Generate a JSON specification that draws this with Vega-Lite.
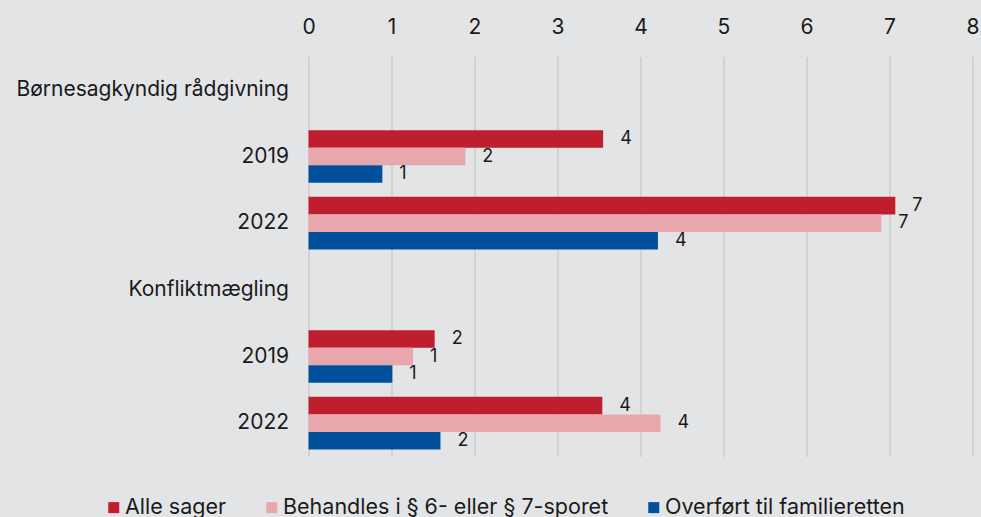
{
  "$schema": "https://vega.github.io/schema/vega-lite/v6.json",
  "autosize": "none",
  "width": 664,
  "height": 400,
  "padding": {"left": 308.5, "top": 56.5, "right": 8.5, "bottom": 60.5},
  "background": "#e3e4e6",
  "config": {"view": {"stroke": null}, "font": "Inter", "text": {"font": "Inter"}},
  "data": {
    "values": [
      {"row": "2|2019", "series": "Alle sager", "value": 3.55},
      {"row": "2|2019", "series": "Behandles i § 6- eller § 7-sporet", "value": 1.89},
      {"row": "2|2019", "series": "Overført til familieretten", "value": 0.89},
      {"row": "3|2022", "series": "Alle sager", "value": 7.07},
      {"row": "3|2022", "series": "Behandles i § 6- eller § 7-sporet", "value": 6.9},
      {"row": "3|2022", "series": "Overført til familieretten", "value": 4.21},
      {"row": "5|2019", "series": "Alle sager", "value": 1.52},
      {"row": "5|2019", "series": "Behandles i § 6- eller § 7-sporet", "value": 1.26},
      {"row": "5|2019", "series": "Overført til familieretten", "value": 1.01},
      {"row": "6|2022", "series": "Alle sager", "value": 3.54},
      {"row": "6|2022", "series": "Behandles i § 6- eller § 7-sporet", "value": 4.24},
      {"row": "6|2022", "series": "Overført til familieretten", "value": 1.59}
    ]
  },
  "encoding": {
    "y": {
      "field": "row",
      "type": "nominal",
      "scale": {
        "domain": ["1|Børnesagkyndig rådgivning", "2|2019", "3|2022", "4|Konfliktmægling", "5|2019", "6|2022"],
        "paddingInner": 0.21,
        "paddingOuter": 0.105
      },
      "axis": {
        "title": null,
        "domain": false,
        "ticks": false,
        "labelFontSize": 21,
        "labelPadding": 20,
        "labelLimit": 400,
        "labelColor": "#1a1a1a",
        "labelExpr": "split(datum.label, '|')[1]"
      }
    },
    "yOffset": {
      "field": "series",
      "type": "nominal",
      "scale": {"domain": ["Alle sager", "Behandles i § 6- eller § 7-sporet", "Overført til familieretten"]}
    },
    "x": {
      "field": "value",
      "type": "quantitative",
      "scale": {"domain": [0, 8], "nice": false},
      "axis": {
        "orient": "top",
        "title": null,
        "values": [0, 1, 2, 3, 4, 5, 6, 7, 8],
        "format": "d",
        "grid": true,
        "gridColor": "#c6c7c9",
        "gridWidth": 1.2,
        "domain": false,
        "ticks": false,
        "labelFontSize": 21,
        "labelPadding": 19,
        "labelColor": "#1a1a1a",
        "labelFlush": false
      }
    }
  },
  "layer": [
    {
      "mark": {"type": "bar"},
      "encoding": {
        "color": {
          "field": "series",
          "type": "nominal",
          "scale": {
            "domain": ["Alle sager", "Behandles i § 6- eller § 7-sporet", "Overført til familieretten"],
            "range": ["#be1e2d", "#e8a7ac", "#00509c"]
          },
          "legend": {
            "orient": "none",
            "legendX": -205.5,
            "legendY": 440,
            "direction": "horizontal",
            "columns": 3,
            "title": null,
            "symbolType": "square",
            "symbolSize": 121,
            "symbolStrokeWidth": 0,
            "labelFontSize": 21.5,
            "labelColor": "#1a1a1a",
            "labelOffset": 0.5,
            "columnPadding": 34,
            "labelLimit": 500
          }
        }
      }
    },
    {
      "mark": {"type": "text", "align": "left", "baseline": "middle", "dx": 17, "fontSize": 18, "color": "#1a1a1a"},
      "encoding": {
        "text": {"field": "value", "type": "quantitative", "format": ".0f"}
      }
    }
  ]
}
